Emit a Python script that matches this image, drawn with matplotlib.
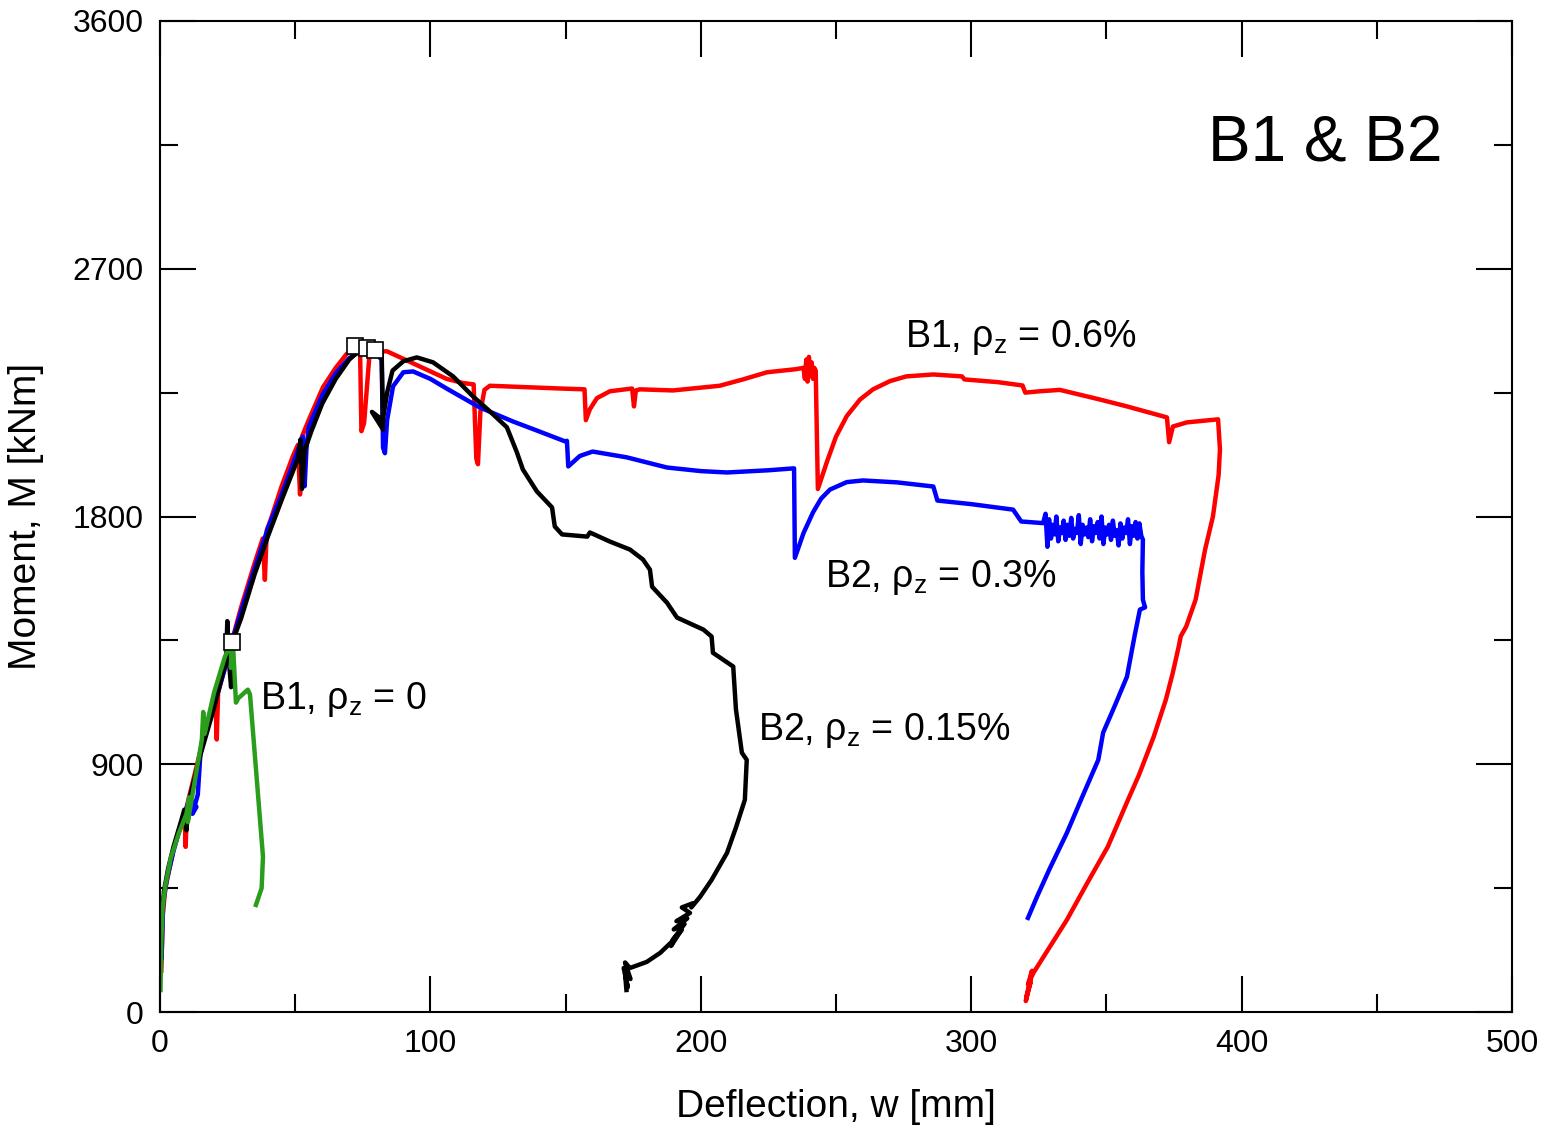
import numpy as np
import matplotlib
matplotlib.use('Agg')
from matplotlib import pyplot as plt
from matplotlib.ticker import MultipleLocator

plt.rcParams['font.family'] = ['Liberation Sans', 'DejaVu Sans']
plt.rcParams['mathtext.fontset'] = 'custom'
plt.rcParams['mathtext.rm'] = 'Liberation Sans'
plt.rcParams['mathtext.it'] = 'Liberation Sans:italic'

# deflection w [mm], moment M [kNm]
b1_06 = [(0.5, 150), (1.0, 350), (2.0, 450), (5, 590), (8, 690), (9.2, 730), (9.5, 600), (10, 750),
         (15, 950), (19.5, 1100), (20.5, 1140), (21, 990), (21.5, 1160), (25, 1290), (30, 1470),
         (35, 1630), (38, 1720), (38.8, 1570), (39.5, 1750), (41, 1790), (45, 1910), (49.2, 2020),
         (51, 2060), (51.8, 1880), (52.5, 2090), (55, 2150), (60.3, 2270), (65, 2340), (69, 2390),
         (72, 2410), (74, 2405), (74.5, 2110), (75.5, 2140), (77.5, 2390), (80, 2400), (84, 2400),
         (95, 2350), (106, 2300), (112, 2285), (116, 2280), (117, 2010), (117.6, 1990), (118.5, 2180),
         (120, 2260), (122, 2275), (135, 2270), (148, 2265), (157, 2262), (157.5, 2150), (159, 2190),
         (161.6, 2230), (166.4, 2255), (174.6, 2265), (175.3, 2200), (176, 2258), (177.5, 2262),
         (189.7, 2258), (207, 2275), (215.6, 2298), (224.5, 2324), (235, 2335), (238, 2340),
         (238.5, 2300), (239, 2370), (239.5, 2290), (240, 2380), (240.5, 2310), (241, 2360),
         (241.5, 2300), (242, 2340), (242.5, 2330), (243.3, 1900), (246.7, 2000), (250, 2090),
         (254, 2165), (258.9, 2225), (263.7, 2262), (270, 2292), (276, 2309), (286, 2316),
         (296.6, 2309), (297.5, 2298), (310, 2288), (319, 2276), (320, 2250), (321, 2251),
         (325.4, 2255), (332.8, 2260), (347.6, 2225), (357.6, 2200), (365, 2180), (372.4, 2160),
         (373.2, 2070), (374.6, 2127), (379.8, 2142), (391.3, 2153), (392, 2044), (391.5, 1950),
         (389.4, 1800), (386.5, 1680), (383, 1498), (379.5, 1400), (377.5, 1365), (376.8, 1330),
         (374.5, 1230), (372, 1135), (367.5, 1000), (362, 860), (358, 771), (350.5, 600),
         (343, 470), (335.4, 335), (328, 220), (323, 142), (321, 100), (322.5, 150),
         (320.2, 40), (322, 110), (320.5, 60)]

b2_03 = [(0.6, 200), (1.2, 400), (2.5, 480), (5, 585), (8, 690), (11, 775), (13.5, 745), (12, 720),
         (14, 790), (15, 945), (20, 1115), (25, 1280), (26.5, 1340), (30, 1455), (35, 1610),
         (40, 1760), (45, 1880), (49, 1985), (52.8, 2090), (53.5, 1910), (54.2, 2050), (55, 2125),
         (60, 2240), (65, 2320), (70, 2375), (74, 2400), (78, 2395), (80, 2390), (82, 2370),
         (82.5, 2050), (83.2, 2030), (84, 2150), (86.2, 2273), (90, 2324), (93.6, 2327), (100, 2300),
         (106, 2265), (118.3, 2196), (130.6, 2145), (140, 2110), (149.8, 2073), (150.5, 2075),
         (151, 1982), (155.3, 2020), (160, 2036), (172.6, 2015), (187.5, 1978), (200, 1965),
         (209.7, 1960), (225, 1968), (234.5, 1975), (234.8, 1650), (238, 1740), (241.5, 1815),
         (244.5, 1865), (247.8, 1898), (254, 1925), (260, 1931), (272.6, 1924), (286, 1909),
         (287.5, 1858), (300, 1845), (315.5, 1825), (318.5, 1782), (326.6, 1776),
         (327.5, 1810), (328.2, 1690), (328.8, 1790), (329.5, 1720), (330.1, 1770), (330.8, 1735),
         (331.5, 1800), (332.2, 1710), (332.9, 1760), (333.5, 1740), (334.2, 1785), (334.9, 1715),
         (335.6, 1770), (336.3, 1730), (337.0, 1795), (337.7, 1720), (338.4, 1755), (339.1, 1740),
         (339.8, 1805), (340.5, 1700), (341.2, 1770), (341.9, 1735), (342.6, 1760), (343.3, 1725),
         (344.0, 1790), (344.7, 1710), (345.4, 1765), (346.1, 1740), (346.8, 1780), (347.5, 1720),
         (348.2, 1800), (348.9, 1700), (349.6, 1760), (350.3, 1735), (351.0, 1770), (351.7, 1715),
         (352.4, 1785), (353.1, 1730), (353.8, 1750), (354.5, 1695), (355.2, 1775), (355.9, 1720),
         (356.6, 1760), (357.3, 1740), (358.0, 1790), (358.7, 1700), (359.4, 1765), (360.1, 1730),
         (360.8, 1780), (361.5, 1720), (362.2, 1775), (362.9, 1730),
         (363.5, 1716), (363.3, 1600), (363.5, 1498), (364.3, 1470), (362.4, 1462), (360.5, 1370),
         (357.6, 1218), (353, 1110), (348.8, 1015), (347, 916), (341, 780), (335.4, 651),
         (329, 520), (324.3, 418), (321, 342)]

b2_015 = [(0.3, 150), (0.6, 330), (1.5, 440), (3, 520), (5, 600), (8, 700), (9, 735), (9.8, 660),
          (10.5, 760), (15, 935), (20, 1105), (24.5, 1280), (24.9, 1420), (25.3, 1300), (26.3, 1180),
          (27, 1350), (30, 1430), (35, 1590), (40, 1730), (45, 1860), (49, 1960), (51, 2010),
          (52, 2080), (52.5, 1900), (53.5, 2040), (56, 2110), (60, 2210), (65, 2300), (70, 2370),
          (72.8, 2395), (80, 2395), (82, 2390), (82.5, 2116), (78.4, 2180), (82.4, 2150), (84, 2250),
          (86, 2330), (90, 2364), (95, 2378), (101, 2360), (108.4, 2309), (115.8, 2236), (122, 2182),
          (128.3, 2124), (132, 2033), (134.2, 1971), (139.4, 1891), (145, 1833), (146, 1764),
          (148.7, 1735), (158, 1727), (159, 1742), (166.4, 1709), (173.8, 1680), (178.6, 1644),
          (181.2, 1607), (182, 1545), (187.5, 1487), (191.2, 1433), (201, 1389), (204, 1364),
          (204.5, 1305), (212, 1255), (213, 1100), (215.2, 942), (217, 916), (216.3, 771),
          (213, 670), (209.7, 578), (204, 480), (199.7, 418), (196.5, 380), (197, 395), (193, 380),
          (196, 360), (191, 330), (195, 340), (190, 300), (194, 320), (189.5, 260), (193, 300),
          (189, 240), (190, 262), (185, 215), (180, 182), (173.8, 160), (172, 180), (174, 120),
          (171.5, 160), (173, 90), (172, 140), (172.5, 80)]

b1_0 = [(0.2, 80), (0.5, 250), (1, 380), (2, 460), (4, 560), (7, 650), (9.8, 720), (10.8, 780),
        (10.3, 690), (11.5, 760), (15, 960), (15.5, 990), (16, 1090), (16.5, 1010), (20, 1160),
        (24, 1290), (26.6, 1345), (26.2, 1250), (27, 1340), (28.1, 1124), (29, 1140), (32.5, 1171),
        (33.3, 1153), (38.1, 564), (37.6, 450), (35.5, 389)]

# open squares marking peak loads
peak_w = [72, 76.5, 79.6, 26.6]
peak_m = [2418, 2412, 2405, 1345]

fig = plt.figure(figsize=(15.53, 11.29), dpi=100)
ax = fig.add_axes([0.103, 0.1036, 0.8706, 0.8778])

for pts, col in [(b1_06, 'red'), (b2_03, 'blue'), (b2_015, 'black'), (b1_0, '#2a9d1c')]:
    w, m = np.array(pts).T
    ax.plot(w, m, color=col, lw=3.2, solid_joinstyle='round')

ax.plot(peak_w, peak_m, 's', ms=12, mfc='white', mec='black', mew=1.2, zorder=5)

ax.set_xlim(0, 500)
ax.set_ylim(0, 3600)
ax.xaxis.set_major_locator(MultipleLocator(100))
ax.xaxis.set_minor_locator(MultipleLocator(50))
ax.yaxis.set_major_locator(MultipleLocator(900))
ax.yaxis.set_minor_locator(MultipleLocator(450))
ax.tick_params(which='major', direction='in', length=26, width=1.5, top=True, right=True,
               labelsize=23, pad=12)
ax.tick_params(which='minor', direction='in', length=13, width=1.5, top=True, right=True)
for s in ax.spines.values():
    s.set_linewidth(1.5)

ax.set_xlabel('Deflection, w [mm]', fontsize=28, labelpad=22)
ax.set_ylabel('Moment, M [kNm]', fontsize=28, labelpad=20)

fs = 27
ax.text(275.5, 2415, r'B1, $\mathrm{\rho_z}$ = 0.6%', fontsize=fs, va='baseline')
ax.text(246, 1545, r'B2, $\mathrm{\rho_z}$ = 0.3%', fontsize=fs, va='baseline')
ax.text(221, 990, r'B2, $\mathrm{\rho_z}$ = 0.15%', fontsize=fs, va='baseline')
ax.text(37, 1100, r'B1, $\mathrm{\rho_z}$ = 0', fontsize=fs, va='baseline')
ax.text(387.5, 3153, 'B1 & B2', fontsize=46, va='center')

fig.savefig('out.png', dpi=100)
